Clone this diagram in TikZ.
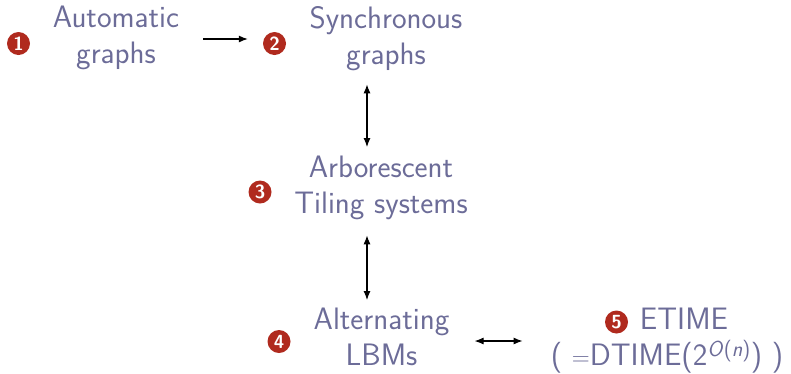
\documentclass[tikz,border=0pt]{standalone}
\usetikzlibrary{arrows.meta}
\definecolor{txtcol}{RGB}{108,108,152}
\definecolor{circcol}{RGB}{176,42,30}
\begin{document}
\begin{tikzpicture}[x=1pt,y=-1pt,
  lbl/.style={inner sep=0pt,anchor=north,align=center,text=txtcol,
    font=\sffamily\fontsize{31}{36}\selectfont},
  num/.style={circle,fill=circcol,inner sep=0pt,minimum size=23pt,text=white,
    font=\sffamily\bfseries\fontsize{19}{19}\selectfont},
  arr/.style={line width=1.1pt,-{Latex[length=9pt,width=7pt]}},
  dbl/.style={line width=1.1pt,{Latex[length=9pt,width=7pt]}-{Latex[length=9pt,width=7pt]}}]
\useasboundingbox (0,0) rectangle (791,373);
\node[lbl] (n1) at (116,5.5) {Automatic\\graphs};
\node[lbl] (n2) at (386,6) {Synchronous\\graphs};
\node[lbl] (n3) at (381,155.5) {Arborescent\\Tiling systems};
\node[lbl] (n4) at (381.5,307.5) {Alternating\\LBMs};
\node[lbl] (n5) at (667,307.5) {\hspace*{34pt}ETIME\\( $=$DTIME(2\textsuperscript{\textit{O}(\textit{n})}) )};
\node[num] (c1) at (18.5,43.5) {1};
\node[num] (c2) at (274.5,43.5) {2};
\node[num] (c3) at (260,192) {3};
\node[num] (c4) at (279,341.5) {4};
\node[num] (c5) at (616.5,322) {5};
\coordinate (ya) at (0,39);
\coordinate (xv) at (367,0);
\coordinate (yb) at (0,341);
\draw[arr,shorten <=24pt,shorten >=15pt] (n1.east |- ya) -- (c2.west |- ya);
\draw[dbl,shorten <=13.6pt,shorten >=8.5pt] (n2.south -| xv) -- (n3.north -| xv);
\draw[dbl,shorten <=15.6pt,shorten >=7.5pt] (n3.south -| xv) -- (n4.north -| xv);
\draw[dbl,shorten <=25pt,shorten >=28pt] (n4.east |- yb) -- (n5.west |- yb);
\end{tikzpicture}
\end{document}
